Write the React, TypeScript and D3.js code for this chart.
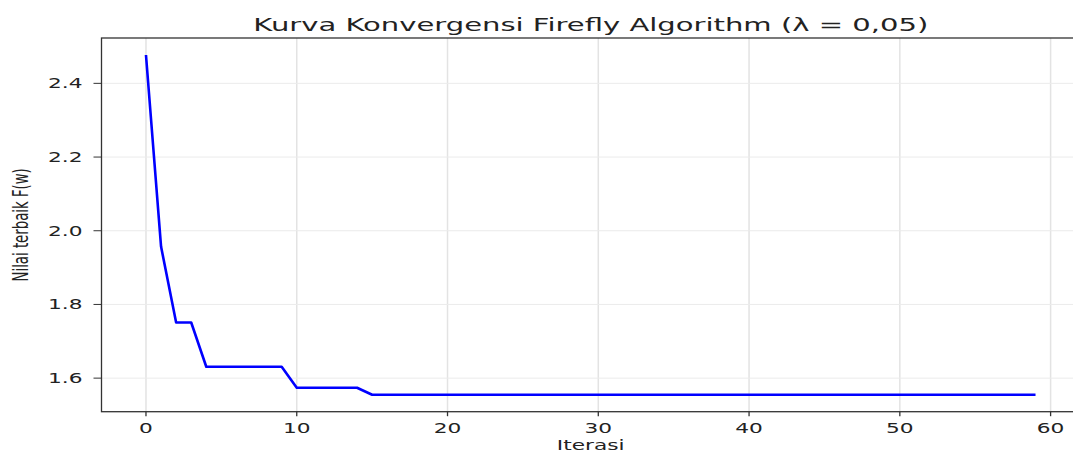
import { useEffect, useRef } from "react";
import * as d3 from "d3";

// best F(w) per iteration
const iterations = d3.range(0, 60);
const bestValues = [
  2.477, 1.957, 1.751, 1.751, 1.631, 1.631, 1.631, 1.631, 1.631, 1.631,
  1.574, 1.574, 1.574, 1.574, 1.574, 1.555, 1.555, 1.555, 1.555, 1.555,
  1.555, 1.555, 1.555, 1.555, 1.555, 1.555, 1.555, 1.555, 1.555, 1.555,
  1.555, 1.555, 1.555, 1.555, 1.555, 1.555, 1.555, 1.555, 1.555, 1.555,
  1.555, 1.555, 1.555, 1.555, 1.555, 1.555, 1.555, 1.555, 1.555, 1.555,
  1.555, 1.555, 1.555, 1.555, 1.555, 1.555, 1.555, 1.555, 1.555, 1.555,
];
const xTicks = [0, 10, 20, 30, 40, 50, 60];
const yTicks = [1.6, 1.8, 2.0, 2.2, 2.4];

const TITLE = "Kurva Konvergensi Firefly Algorithm (λ = 0,05)";
const X_LABEL = "Iterasi";
const Y_LABEL = "Nilai terbaik F(w)";

export default function App() {
  const svgRef = useRef<SVGSVGElement>(null);

  useEffect(() => {
    if (!svgRef.current) return;
    const width = 1073;
    const height = 452;
    // the original figure was stretched sideways, so text is widened too
    const SX = 1.55;
    const margin = { top: 38, right: -7, bottom: 40.3, left: 101.5 };
    const font = "DejaVu Sans, sans-serif";
    const ink = "#222";

    const svg = d3.select(svgRef.current);
    svg.selectAll("*").remove();
    svg.attr("width", width).attr("height", height);

    // matplotlib-style 5% margins
    const xPad = (59 - 0) * 0.05;
    const [yMin, yMax] = d3.extent(bestValues) as [number, number];
    const yPad = (yMax - yMin) * 0.05;

    const x = d3.scaleLinear()
      .domain([0 - xPad, 59 + xPad])
      .range([margin.left, width - margin.right]);
    const y = d3.scaleLinear()
      .domain([yMin - yPad, yMax + yPad])
      .range([height - margin.bottom, margin.top]);

    const [x0, x1] = x.range();
    const [y0, y1] = y.range();

    // Grid
    svg.append("g").selectAll("line").data(xTicks).join("line")
      .attr("x1", d => x(d)).attr("x2", d => x(d))
      .attr("y1", y0).attr("y2", y1)
      .attr("stroke", "#e3e3e3").attr("stroke-width", 1.5);
    svg.append("g").selectAll("line").data(yTicks).join("line")
      .attr("x1", x0).attr("x2", x1)
      .attr("y1", d => y(d)).attr("y2", d => y(d))
      .attr("stroke", "#ebebeb").attr("stroke-width", 1);

    // Line
    const line = d3.line<number>()
      .x((_, i) => x(iterations[i]))
      .y(d => y(d));
    svg.append("path")
      .datum(bestValues)
      .attr("fill", "none")
      .attr("stroke", "#0000ff")
      .attr("stroke-width", 2.6)
      .attr("stroke-linejoin", "round")
      .attr("d", line);

    // Spines
    svg.append("rect")
      .attr("x", x0).attr("y", y1)
      .attr("width", x1 - x0).attr("height", y0 - y1)
      .attr("fill", "none").attr("stroke", "#333").attr("stroke-width", 1.3);

    // X ticks
    const xt = svg.append("g").selectAll("g").data(xTicks).join("g");
    xt.append("line")
      .attr("x1", d => x(d)).attr("x2", d => x(d))
      .attr("y1", y0).attr("y2", y0 + 4.5)
      .attr("stroke", "#333").attr("stroke-width", 1.3);
    xt.append("text")
      .attr("transform", d => `translate(${x(d)},${433}) scale(${SX},1)`)
      .attr("text-anchor", "middle")
      .attr("font-family", font).attr("font-size", 14).attr("fill", ink)
      .text(d => d);

    // Y ticks
    const yt = svg.append("g").selectAll("g").data(yTicks).join("g");
    yt.append("line")
      .attr("x1", x0 - 8).attr("x2", x0)
      .attr("y1", d => y(d)).attr("y2", d => y(d))
      .attr("stroke", "#333").attr("stroke-width", 1);
    yt.append("text")
      .attr("transform", d => `translate(${x0 - 19},${y(d) + 5}) scale(${SX},1)`)
      .attr("text-anchor", "end")
      .attr("font-family", font).attr("font-size", 14).attr("fill", ink)
      .text(d => d3.format(".1f")(d));

    // Title & labels
    const cx = (x0 + x1) / 2;
    svg.append("text")
      .attr("transform", `translate(${cx},30.5) scale(1.67,1)`)
      .attr("text-anchor", "middle")
      .attr("font-family", font).attr("font-size", 17.4).attr("fill", ink)
      .text(TITLE);
    svg.append("text")
      .attr("transform", `translate(${cx},450) scale(${SX},1)`)
      .attr("text-anchor", "middle")
      .attr("font-family", font).attr("font-size", 14).attr("fill", ink)
      .text(X_LABEL);
    svg.append("text")
      .attr("transform", `translate(28,${(y0 + y1) / 2}) scale(${SX},1) rotate(-90)`)
      .attr("text-anchor", "middle")
      .attr("font-family", font).attr("font-size", 13.3).attr("fill", ink)
      .text(Y_LABEL);
  }, []);

  return (
    <svg
      ref={svgRef}
      style={{ position: "absolute", left: 0, top: 0, display: "block", background: "#fff" }}
    />
  );
}
